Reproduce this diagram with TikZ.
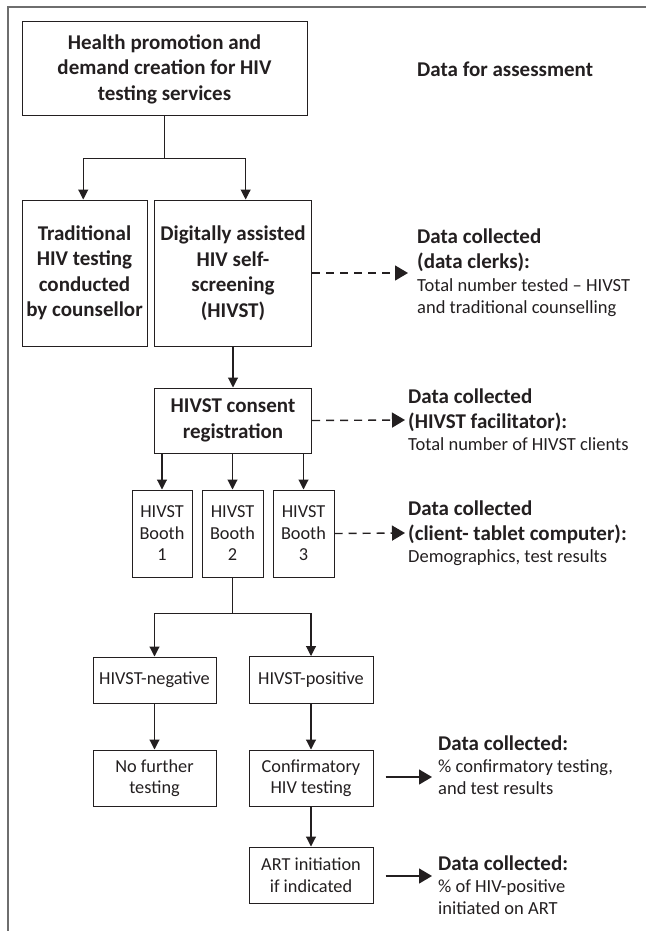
\documentclass[tikz,border=0pt]{standalone}
\usepackage{fontspec}
\setmainfont{Carlito}
\usetikzlibrary{arrows.meta,calc}
\definecolor{ink}{HTML}{231F20}
\definecolor{frame}{HTML}{6E6E6E}
\tikzset{
  bx/.style={draw=ink, line width=1pt, inner sep=0pt, align=center, text=ink},
  bigbold/.style={font=\fontsize{21}{25.5}\selectfont\bfseries},
  reg/.style={font=\fontsize{18.3}{21.5}\selectfont},
  flow/.style={draw=ink, line width=1.1pt, -{Triangle[length=10pt,width=10pt]}},
  plain/.style={draw=ink, line width=1.1pt},
  dashar/.style={draw=ink, line width=1.4pt, dash pattern=on 8pt off 6pt, -{Triangle[length=13pt,width=15pt]}},
  solidar/.style={draw=ink, line width=1.4pt, -{Triangle[length=13pt,width=15pt]}},
  lab/.style={align=left, text=ink, inner ysep=0pt, anchor=west, font=\fontsize{18.5}{22}\selectfont},
}
\newcommand{\hd}[1]{{\fontsize{21}{24}\selectfont\bfseries #1}}
\begin{document}
\begin{tikzpicture}[x=1pt,y=-1pt]
\useasboundingbox (0,0) rectangle (646,931);
\draw[frame, line width=1.5pt] (8,931) -- (8,7) -- (646,7);

\node[bx,bigbold,minimum width=285pt,minimum height=94pt] (top) at (164.5,69) {Health promotion and\\demand creation for HIV\\testing services};
\node[bigbold,anchor=west,text=ink,inner sep=0pt] (dfa) at (417,69) {Data for assessment};

\node[bx,bigbold,minimum width=125pt,minimum height=146pt] (trad) at (84.5,273) {Traditional\\HIV testing\\conducted\\by counsellor};
\node[bx,bigbold,minimum width=157pt,minimum height=146pt] (dig) at (233,273) {Digitally assisted\\HIV self-\\screening\\(HIVST)};
\node[bx,bigbold,minimum width=157pt,minimum height=65pt] (cons) at (233,420.5) {HIVST consent\\registration};

\node[bx,reg,minimum width=60pt,minimum height=87pt] (b1) at (162,533.5) {HIVST\\Booth\\1};
\node[bx,reg,minimum width=61pt,minimum height=87pt] (b2) at (232.5,533.5) {HIVST\\Booth\\2};
\node[bx,reg,minimum width=61pt,minimum height=87pt] (b3) at (303.5,533.5) {HIVST\\Booth\\3};

\node[bx,reg,minimum width=123pt,minimum height=46pt] (neg) at (154.5,680) {HIVST-negative};
\node[bx,reg,minimum width=124pt,minimum height=47pt] (pos) at (311,680) {HIVST-positive};
\node[bx,reg,minimum width=123pt,minimum height=56pt] (nof) at (154.5,778) {No further\\testing};
\node[bx,reg,minimum width=124pt,minimum height=56pt] (conf) at (311,778) {Confirmatory\\HIV testing};
\node[bx,reg,minimum width=124pt,minimum height=56pt] (art) at (311,875) {ART initiation\\if indicated};

% labels
\node[lab,inner xsep=9pt] (l1) at (408,273) {\hd{Data collected}\\[3pt]\hd{(data clerks):}\\[1pt]Total number tested – HIVST\\and traditional counselling};
\node[lab,inner xsep=3pt] (l2) at (405,420) {\hd{Data collected}\\[3pt]\hd{(HIVST facilitator):}\\Total number of HIVST clients};
\node[lab,inner xsep=3pt] (l3) at (405,533) {\hd{Data collected}\\[3pt]\hd{(client- tablet computer):}\\Demographics, test results};
\node[lab,inner xsep=6pt] (l4) at (432,765) {\hd{Data collected:}\\\% confirmatory testing,\\and test results};
\node[lab,inner xsep=6pt] (l5) at (432,885.5) {\hd{Data collected:}\\\% of HIV-positive\\initiated on ART};

% connectors
\coordinate (s1) at ($(top.south)+(0,42)$);
\draw[plain] (top.south) -- (s1);
\draw[flow] (s1) -| ($(trad.north west)!0.49!(trad.north east)$);
\draw[flow] (s1) -| ($(dig.north west)!0.58!(dig.north east)$);
\draw[flow] (dig.south) -- (cons.north);
\draw[flow] (b1.north |- cons.south) -- (b1.north);
\draw[flow] (b2.north |- cons.south) -- (b2.north);
\draw[flow] (b3.north |- cons.south) -- (b3.north);
\coordinate (s2) at ($(b2.south)+(0,36)$);
\draw[plain] (b2.south) -- (s2);
\draw[flow] (s2) -| (neg.north);
\draw[flow] (s2) -| (pos.north);
\draw[flow] (neg.south) -- (nof.north);
\draw[flow] (pos.south) -- (conf.north);
\draw[flow] (conf.south) -- (art.north);

\draw[dashar] (dig.east) -- (l1.west);
\draw[dashar] (cons.east) -- (l2.west);
\draw[dashar] (b3.east) -- (l3.west);
\draw[solidar] ($(conf.east)+(12,-1)$) -- ($(conf.east -| l4.west)+(0,-1)$);
\draw[solidar] ($(art.east)+(12,1)$) -- ($(art.east -| l5.west)+(0,1)$);
\end{tikzpicture}
\end{document}
